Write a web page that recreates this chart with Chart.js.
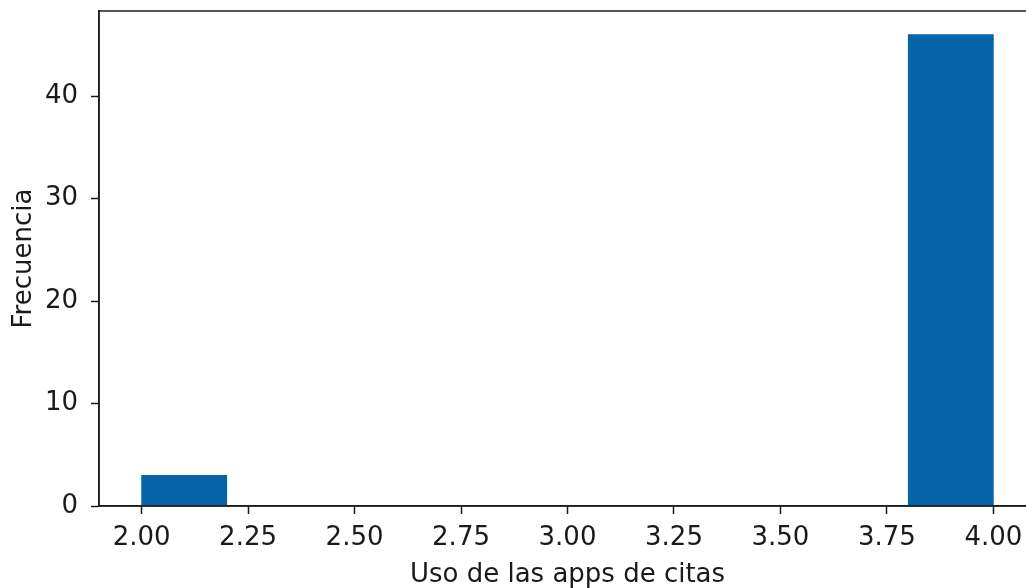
<!DOCTYPE html>
<html>
<head>
<meta charset="utf-8">
<script src="https://cdn.jsdelivr.net/npm/chart.js@4/dist/chart.umd.min.js"></script>
<style>
  html, body { margin: 0; padding: 0; background: #fff; overflow: hidden; }
  #wrap { position: absolute; left: 0; top: 0; width: 1040px; height: 588px; }
</style>
</head>
<body>
<div id="wrap"><canvas id="c" width="1040" height="588"></canvas></div>
<script>
// histograma: 10 intervalos entre 2.0 y 4.0
var binEdges = [2.0, 2.2, 2.4, 2.6, 2.8, 3.0, 3.2, 3.4, 3.6, 3.8, 4.0];
var counts = [3, 0, 0, 0, 0, 0, 0, 0, 0, 46];
var xTicks = [2.0, 2.25, 2.5, 2.75, 3.0, 3.25, 3.5, 3.75, 4.0];
var yTicks = [0, 10, 20, 30, 40];
var xLabel = "Uso de las apps de citas";
var yLabel = "Frecuencia";

var points = counts.map(function (c, i) {
  return { x: (binEdges[i] + binEdges[i + 1]) / 2, y: c };
});

var FONT = "'DejaVu Sans', sans-serif";
var INK = "#1a1a1a";

// marco superior/derecho como en matplotlib
var frame = {
  id: "frame",
  afterDraw: function (chart) {
    var a = chart.chartArea, ctx = chart.ctx;
    ctx.save();
    ctx.strokeStyle = INK;
    ctx.lineWidth = 1.5;
    ctx.strokeRect(a.left, a.top, a.right - a.left, a.bottom - a.top);
    ctx.restore();
  }
};

new Chart(document.getElementById("c"), {
  type: "bar",
  data: {
    datasets: [{
      data: points,
      backgroundColor: "#0565a8",
      borderWidth: 0,
      barPercentage: 1.0,
      categoryPercentage: 1.0
    }]
  },
  options: {
    responsive: false,
    animation: false,
    layout: { padding: { left: 0, right: 4, top: 11, bottom: 0 } },
    plugins: { legend: { display: false }, tooltip: { enabled: false } },
    scales: {
      x: {
        type: "linear",
        min: 1.9,
        max: 4.1,
        offset: false,
        afterBuildTicks: function (s) { s.ticks = xTicks.map(function (v) { return { value: v }; }); },
        afterFit: function (s) { s.height = 82; },
        ticks: {
          color: INK,
          font: { family: FONT, size: 26 },
          padding: 9,
          maxRotation: 0,
          autoSkip: false,
          callback: function (v) { return Number(v).toFixed(2); }
        },
        grid: { offset: false, drawOnChartArea: false, drawTicks: true, tickLength: 8, color: INK, tickWidth: 1.5 },
        border: { display: true, color: INK, width: 1.5 },
        title: { display: true, text: xLabel, color: INK, font: { family: FONT, size: 26, lineHeight: 1.0 }, padding: { top: 2, bottom: 0 } }
      },
      y: {
        min: 0,
        max: 48.3,
        afterBuildTicks: function (s) { s.ticks = yTicks.map(function (v) { return { value: v }; }); },
        afterFit: function (s) { s.width = 99; s.paddingTop = 0; s.paddingBottom = 0; },
        ticks: { color: INK, font: { family: FONT, size: 26 }, padding: 13 },
        grid: { drawOnChartArea: false, drawTicks: true, tickLength: 8, color: INK, tickWidth: 1.5 },
        border: { display: true, color: INK, width: 1.5 },
        title: { display: true, text: yLabel, color: INK, font: { family: FONT, size: 26, lineHeight: 1.0 }, padding: { top: 11, bottom: 0 } }
      }
    }
  },
  plugins: [frame]
});
</script>
</body>
</html>
